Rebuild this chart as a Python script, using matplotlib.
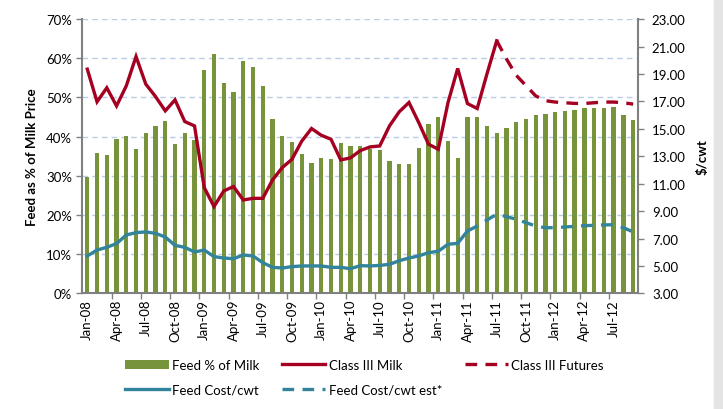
import numpy as np
import pandas as pd
import matplotlib
matplotlib.use("Agg")
import matplotlib.pyplot as plt
from matplotlib.ticker import FuncFormatter, FixedLocator
from matplotlib.patches import Patch, Rectangle
from matplotlib.lines import Line2D

plt.rcParams['font.family'] = ['Lato', 'DejaVu Sans']

# monthly categories Jan-08 .. Sep-12
months = pd.date_range("2008-01-01", periods=57, freq="MS").strftime("%b-%y").tolist()

# Feed % of Milk (bars, left axis, percent)
feed_pct = [29.6, 35.9, 35.2, 39.5, 40.1, 36.8, 41.0, 42.7, 43.9, 38.2, 40.9, 39.2,
            57.1, 61.2, 53.8, 51.4, 59.3, 57.8, 52.8, 44.6, 40.2, 38.7, 35.6, 33.3,
            34.5, 34.2, 38.4, 37.5, 37.7, 36.8, 36.7, 33.8, 33.1, 32.9, 37.0, 43.3,
            45.1, 38.8, 34.5, 44.9, 44.9, 42.8, 41.0, 42.2, 43.7, 44.6, 45.6, 45.8,
            46.2, 46.5, 46.9, 47.2, 47.3, 47.3, 47.5, 45.6, 44.2]

# Class III Milk, Jan-08 .. Jul-11 ($/cwt)
class3 = [19.35, 16.97, 17.99, 16.67, 18.13, 20.27, 18.26, 17.35, 16.31, 17.11, 15.53, 15.21,
          10.71, 9.33, 10.47, 10.79, 9.81, 9.93, 9.93, 11.27, 12.17, 12.78, 14.10, 15.02,
          14.53, 14.24, 12.73, 12.88, 13.41, 13.68, 13.75, 15.21, 16.24, 16.92, 15.46, 13.88,
          13.51, 16.90, 19.40, 16.84, 16.48, 19.00, 21.42]

# Class III Futures, Jul-11 .. Sep-12
class3_fut = [21.42, 20.10, 18.90, 18.15, 17.40, 17.05, 16.95, 16.90, 16.85, 16.85,
              16.90, 16.95, 16.95, 16.90, 16.80]

# Feed Cost/cwt, Jan-08 .. Apr-11
feed_cost = [5.73, 6.16, 6.36, 6.63, 7.26, 7.43, 7.48, 7.38, 7.11, 6.50, 6.36, 6.02,
             6.16, 5.68, 5.58, 5.53, 5.80, 5.73, 5.24, 4.90, 4.85, 4.95, 5.00, 5.00,
             5.00, 4.90, 4.90, 4.80, 5.02, 5.00, 5.04, 5.12, 5.38, 5.58, 5.73, 5.97,
             6.07, 6.58, 6.65, 7.55]

# Feed Cost/cwt est*, Apr-11 .. Sep-12
feed_est = [7.55, 7.91, 8.35, 8.77, 8.60, 8.40, 8.16, 7.91, 7.79, 7.79, 7.84, 7.89,
            7.94, 7.96, 7.99, 8.01, 7.79, 7.48]

green = "#77933C"
red = "#A50021"
teal = "#31849B"
grid_c = "#B9CDE5"
axis_c = "#808080"

x = np.arange(len(months))
x_c3 = np.arange(len(class3))
x_fut = np.arange(len(class3) - 1, len(class3) - 1 + len(class3_fut))
x_fc = np.arange(len(feed_cost))
x_est = np.arange(len(feed_cost) - 1, len(feed_cost) - 1 + len(feed_est))

fig = plt.figure(figsize=(7.23, 4.10), dpi=100)
ax = fig.add_axes([0.114, 0.282, 0.7685, 0.669])

ax.bar(x, np.array(feed_pct) / 100, width=0.45, color=green, zorder=2)
ax.set_xlim(-0.5, len(months) - 0.5)
ax.set_ylim(0, 0.7)
ax.set_yticks(np.arange(0, 0.71, 0.1))
ax.yaxis.set_major_formatter(FuncFormatter(lambda v, p: f"{v*100:.0f}%"))
ax.set_axisbelow(True)
ax.yaxis.grid(True, color=grid_c, linestyle=(0, (4, 3)), linewidth=1)

# labels on every third month, tick marks between categories
lab_pos = x[::3]
ax.set_xticks(lab_pos)
ax.set_xticklabels([months[i] for i in lab_pos], rotation=90, fontsize=9.5)
ax.tick_params(axis='x', length=0, pad=4)
ax.xaxis.set_minor_locator(FixedLocator(lab_pos[1:] - 0.5))
ax.tick_params(axis='x', which='minor', length=4, color=axis_c, width=1)
ax.tick_params(axis='y', length=4, color=axis_c, labelsize=9.5, width=1)

for s in ['top', 'right']:
    ax.spines[s].set_visible(False)
for s in ['left', 'bottom']:
    ax.spines[s].set_color(axis_c)
    ax.spines[s].set_linewidth(1.5)

ax.set_ylabel("Feed as % of Milk Price", fontsize=9.5, fontweight='bold', labelpad=6)

ax2 = ax.twinx()
ax2.plot(x_c3, class3, color=red, lw=2.4, solid_joinstyle='miter')
ax2.plot(x_fut, class3_fut, color=red, lw=2.4, dashes=(3.5, 2.5))
ax2.plot(x_fc, feed_cost, color=teal, lw=2.4)
ax2.plot(x_est, feed_est, color=teal, lw=2.4, dashes=(3.5, 2.5))
ax2.set_ylim(3, 23)
ax2.set_yticks(np.arange(3, 23.1, 2))
ax2.yaxis.set_major_formatter(FuncFormatter(lambda v, p: f"{v:.2f}"))
ax2.tick_params(axis='y', length=4, color=axis_c, labelsize=9.5, width=1, pad=6)
for s in ['top', 'left', 'bottom']:
    ax2.spines[s].set_visible(False)
ax2.spines['right'].set_color(axis_c)
ax2.spines['right'].set_linewidth(1.5)
ax2.set_ylabel("$/cwt", fontsize=9.5, fontweight='bold', labelpad=8)

handles = [
    Patch(facecolor=green, label="Feed % of Milk"),
    Line2D([], [], color=teal, lw=2.4, label="Feed Cost/cwt"),
    Line2D([], [], color=red, lw=2.4, label="Class III Milk"),
    Line2D([], [], color=teal, lw=2.4, dashes=(3.5, 2.5), label="Feed Cost/cwt est*"),
    Line2D([], [], color=red, lw=2.4, dashes=(3.5, 2.5), label="Class III Futures"),
]
fig.legend(handles=handles, ncol=3, loc='upper left', bbox_to_anchor=(0.166, 0.135),
           frameon=False, fontsize=9.5, handlelength=3.3, handletextpad=0.25,
           columnspacing=1.7, labelspacing=0.95, borderaxespad=0)

# light frame shading on the right edge
fig.patches.append(Rectangle((0.987, 0), 0.013, 1, transform=fig.transFigure,
                             color="#E4E4E4", zorder=-1))

fig.savefig("out.png", dpi=100)
